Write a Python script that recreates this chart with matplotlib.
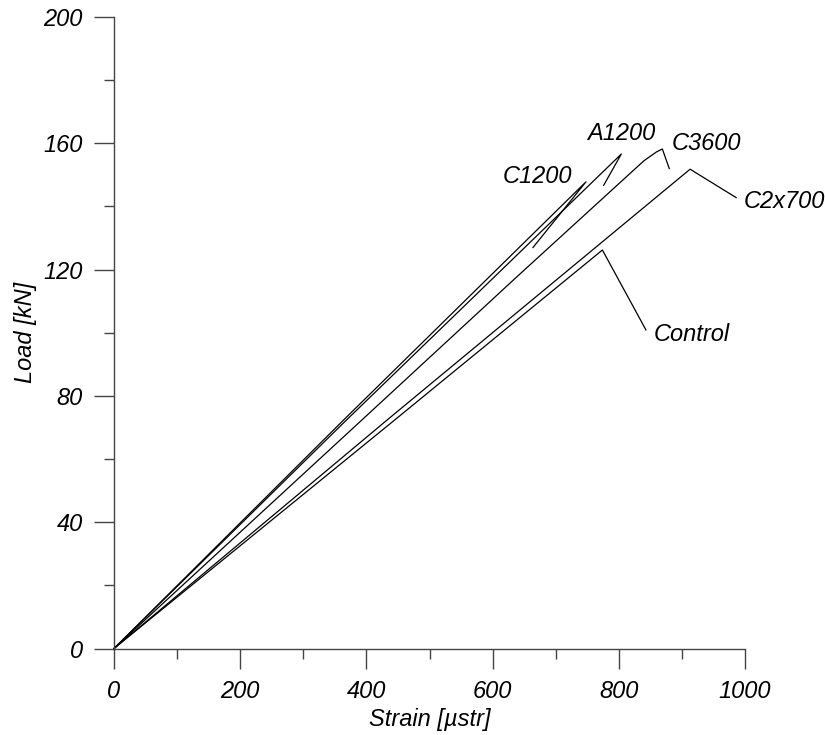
import matplotlib
matplotlib.use('Agg')
import matplotlib.pyplot as plt
from matplotlib.ticker import MultipleLocator

### Data (strain in microstrain, load in kN) ###
c1200_x = [0, 364, 748, 664]
c1200_y = [0, 72.4, 147.8, 127.0]

a1200_x = [0, 364, 804, 776]
a1200_y = [0, 71.5, 156.6, 146.7]

c3600_x = [0, 393, 634, 840, 860, 869, 880]
c3600_y = [0, 72.4, 116.9, 154.5, 157.3, 158.2, 152.0]

c2x700_x = [0, 433, 913, 986]
c2x700_y = [0, 72.4, 151.8, 142.8]

control_x = [0, 445, 774, 843]
control_y = [0, 72.4, 126.2, 100.9]

labels = ['C1200', 'A1200', 'C3600', 'C2x700', 'Control']
label_x = [616, 750, 884, 998, 855]
label_y = [149.6, 163.1, 159.9, 141.5, 99.6]

### Plot ###
plt.rcParams['font.family'] = ['Liberation Sans', 'DejaVu Sans']
plt.rcParams['font.style'] = 'italic'
fs = 17

fig = plt.figure(figsize=(8.25, 7.35), dpi=100)
ax = fig.add_axes([114/825, 86.5/735, 631/825, 631.5/735])

for xs, ys in [(c1200_x, c1200_y), (a1200_x, a1200_y), (c3600_x, c3600_y),
               (c2x700_x, c2x700_y), (control_x, control_y)]:
    ax.plot(xs, ys, '-k', lw=0.9, clip_on=False)

for t, lx, ly in zip(labels, label_x, label_y):
    ax.text(lx, ly, t, fontsize=fs, style='italic', ha='left', va='center')

ax.set_xlim(0, 1000)
ax.set_ylim(0, 200)
ax.xaxis.set_major_locator(MultipleLocator(200))
ax.xaxis.set_minor_locator(MultipleLocator(100))
ax.yaxis.set_major_locator(MultipleLocator(40))
ax.yaxis.set_minor_locator(MultipleLocator(20))

for s in ['top', 'right']:
    ax.spines[s].set_visible(False)
for s in ['left', 'bottom']:
    ax.spines[s].set_color('#444444')
    ax.spines[s].set_linewidth(1.0)

ax.tick_params(which='major', direction='out', length=14.4, width=1.0,
               color='#444444', labelsize=fs, pad=8)
ax.tick_params(which='minor', direction='out', length=7.2, width=1.0,
               color='#444444')
for lab in ax.get_xticklabels() + ax.get_yticklabels():
    lab.set_style('italic')

ax.set_xlabel('Strain [µstr]', fontsize=fs, style='italic', labelpad=4)
ax.set_ylabel('Load [kN]', fontsize=fs, style='italic', labelpad=5)

plt.savefig('out.png', dpi=100)
